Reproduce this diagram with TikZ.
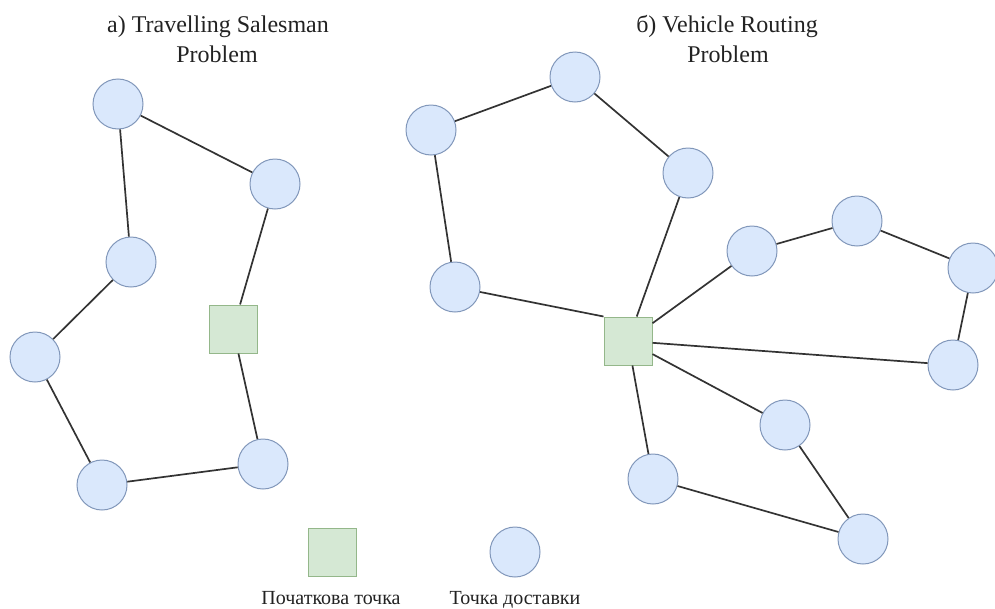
\documentclass[tikz,border=0pt]{standalone}
\usepackage{fontspec}
\setmainfont{Liberation Serif}
\definecolor{ptfill}{HTML}{DAE8FC}
\definecolor{ptdraw}{HTML}{8197BA}
\definecolor{stfill}{HTML}{D5E8D4}
\definecolor{stdraw}{HTML}{94B78A}
\definecolor{edgecol}{HTML}{333333}
\definecolor{txtcol}{HTML}{222222}
\begin{document}
\begin{tikzpicture}[x=1pt,y=-1pt,
  pt/.style={circle,draw=ptdraw,fill=ptfill,line width=1pt,minimum size=50pt,inner sep=0pt},
  depot/.style={rectangle,draw=stdraw,fill=stfill,line width=1pt,minimum size=48pt,inner sep=0pt},
  edge/.style={draw=edgecol,line width=1.7pt},
  title/.style={font=\fontsize{24}{30}\selectfont,text=txtcol,align=center,inner sep=0pt,anchor=base},
  legend/.style={font=\fontsize{20}{24}\selectfont,text=txtcol,inner sep=0pt,anchor=base}]
\useasboundingbox (0,0) rectangle (995,608);
% titles
\node[title] (t1) at (218,32) {а) Travelling Salesman};
\node[title] (t1b) at (217,62) {Problem};
\node[title] (t2) at (727,32) {б) Vehicle Routing};
\node[title] (t2b) at (728,62) {Problem};
% TSP
\node[pt] (a1) at (118,104) {};
\node[pt] (a2) at (275,184) {};
\node[pt] (a3) at (131,262) {};
\node[pt] (a4) at (35,357) {};
\node[pt] (a5) at (102,485) {};
\node[pt] (a6) at (263,464) {};
\node[depot] (s1) at (233,329) {};
\draw[edge] (a1) -- (a2);
\draw[edge] (a1) -- (a3);
\draw[edge] (a3) -- (a4);
\draw[edge] (a4) -- (a5);
\draw[edge] (a5) -- (a6);
\draw[edge] (a6) -- (s1);
\draw[edge] (s1) -- (a2);
% VRP
\node[pt] (b1) at (431,130) {};
\node[pt] (b2) at (575,77) {};
\node[pt] (b3) at (688,173) {};
\node[pt] (b4) at (455,287) {};
\node[depot] (s2) at (628,341) {};
\node[pt] (c1) at (752,251) {};
\node[pt] (c2) at (857,221) {};
\node[pt] (c3) at (973,268) {};
\node[pt] (c4) at (953,365) {};
\node[pt] (d1) at (785,425) {};
\node[pt] (d2) at (863,539) {};
\node[pt] (d3) at (653,479) {};
\draw[edge] (b4) -- (b1);
\draw[edge] (b1) -- (b2);
\draw[edge] (b2) -- (b3);
\draw[edge] (b3) -- (s2);
\draw[edge] (s2.north west) -- (b4);
\draw[edge] (s2) -- (c1);
\draw[edge] (c1) -- (c2);
\draw[edge] (c2) -- (c3);
\draw[edge] (c3) -- (c4);
\draw[edge] (c4) -- (s2);
\draw[edge] (s2) -- (d1);
\draw[edge] (d1) -- (d2);
\draw[edge] (d2) -- (d3);
\draw[edge] (d3) -- (s2);
% legend
\node[depot] (ls) at (332,552) {};
\node[pt] (lc) at (515,552) {};
\node[legend] (lst) at (331,604) {Початкова точка};
\node[legend] (lct) at (515,604) {Точка доставки};
\end{tikzpicture}
\end{document}
